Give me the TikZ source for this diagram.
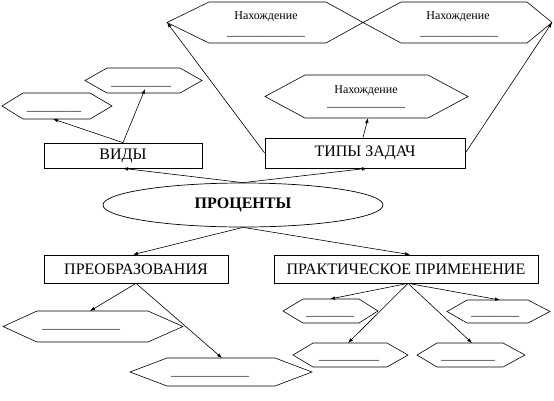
\documentclass[tikz,border=0pt]{standalone}
\usepackage{fontspec}
\setmainfont{Liberation Serif}
\usetikzlibrary{arrows.meta,shapes.geometric}
\tikzset{
  hexline/.style={draw=black,line width=0.6pt,line join=miter},
  box/.style={draw=black,line width=0.7pt,rectangle,inner sep=0pt,font=\fontsize{16}{18}\selectfont},
  oval/.style={draw=black,line width=0.7pt,ellipse,inner sep=0pt,minimum width=280pt,minimum height=44pt,font=\fontsize{16}{18}\selectfont\bfseries},
  conn/.style={draw=black,line width=0.6pt,-{Latex[length=5pt,width=3.6pt]}},
  small/.style={inner sep=0pt,anchor=base,font=\fontsize{12}{14}\selectfont},
  ul/.style={inner sep=0pt,anchor=base,font=\fontsize{12}{14}\selectfont},
}
\newcommand{\hexa}[6]{%
  \draw[hexline] (#1,{(#5+#6)/2}) -- (#2,#5) -- (#3,#5) -- (#4,{(#5+#6)/2}) -- (#3,#6) -- (#2,#6) -- cycle;}
\begin{document}
\begin{tikzpicture}[x=1pt,y=-1pt]
\useasboundingbox (0,0) rectangle (554,400);
% hexagons
\hexa{167}{209}{326}{363}{2}{43}
\hexa{363}{401}{527}{552}{2}{43}
\hexa{265}{305}{428}{468}{75}{118}
\hexa{2}{23}{90}{112}{93}{119}
\hexa{85}{107}{180}{202}{68}{93}
\hexa{3}{37}{148}{183}{311}{342}
\hexa{130}{167}{275}{312}{358}{386}
\hexa{283}{303}{359}{378}{299}{323}
\hexa{447}{467}{528}{550}{300}{323}
\hexa{293}{313}{387}{408}{343}{367}
\hexa{417}{437}{503}{525}{343}{367}
% hexagon texts
\node[small] (n1) at (266,19) {Нахождение};
\node[ul] (u1) at (266,35.5) {\_\_\_\_\_\_\_\_\_\_\_\_\_};
\node[small] (n2) at (458,19) {Нахождение};
\node[ul] (u2) at (459,35.5) {\_\_\_\_\_\_\_\_\_\_\_\_\_};
\node[small] (n3) at (366,93) {Нахождение};
\node[ul] (u3) at (366,106.5) {\_\_\_\_\_\_\_\_\_\_\_\_\_};
\node[ul] (uA) at (54,110.5) {\_\_\_\_\_\_\_\_\_};
\node[ul] (uB) at (141,85.5) {\_\_\_\_\_\_\_\_\_\_};
\node[ul] (uC) at (81,328.5) {\_\_\_\_\_\_\_\_\_\_\_\_\_};
\node[ul] (uD) at (210,375.5) {\_\_\_\_\_\_\_\_\_\_\_\_\_};
\node[ul] (uE) at (330,315.5) {\_\_\_\_\_\_\_\_};
\node[ul] (uF) at (495,315.5) {\_\_\_\_\_\_\_\_};
\node[ul] (uG) at (349,359.5) {\_\_\_\_\_\_\_\_\_\_};
\node[ul] (uH) at (468,359.5) {\_\_\_\_\_\_\_\_\_};
% arrow end points on hexagons
\coordinate (h1l) at (167,22.5);
\coordinate (h2r) at (552,22.5);
\coordinate (h3b) at (368,118);
\coordinate (hAb) at (53,119);
\coordinate (hBb) at (145,89);
\coordinate (hCt) at (90,311);
\coordinate (hDt) at (222,358);
\coordinate (hEt) at (330,299);
\coordinate (hFt) at (500,300);
\coordinate (hGt) at (348,343);
\coordinate (hHt) at (472,343);
% main nodes
\node[box,minimum width=158pt,minimum height=25pt] (vidy) at (123,155.5) {ВИДЫ};
\node[box,minimum width=200pt,minimum height=30pt] (tz) at (365,153) {ТИПЫ ЗАДАЧ};
\node[oval] (proc) at (243,205) {ПРОЦЕНТЫ};
\node[box,minimum width=184pt,minimum height=28pt] (preob) at (136,269) {ПРЕОБРАЗОВАНИЯ};
\node[box,minimum width=264pt,minimum height=28pt] (prakt) at (406,269) {ПРАКТИЧЕСКОЕ ПРИМЕНЕНИЕ};
% connectors
\draw[conn] (proc.north) -- (vidy.south);
\draw[conn] (proc.north) -- ([xshift=2pt]tz.south);
\draw[conn] (proc.south) -- ([xshift=-3pt]preob.north);
\draw[conn] (proc.south) -- ([xshift=4pt]prakt.north);
\draw[conn] (vidy.north) -- (hAb);
\draw[conn] (vidy.north) -- (hBb);
\draw[conn] (tz.west) -- (h1l);
\draw[conn] (tz.east) -- (h2r);
\draw[conn] ([xshift=-2pt]tz.north) -- (h3b);
\draw[conn] (preob.south) -- (hCt);
\draw[conn] (preob.south) -- (hDt);
\draw[conn] ([xshift=2pt]prakt.south) -- (hEt);
\draw[conn] ([xshift=2pt]prakt.south) -- (hFt);
\draw[conn] ([xshift=2pt]prakt.south) -- (hGt);
\draw[conn] ([xshift=2pt]prakt.south) -- (hHt);
\end{tikzpicture}
\end{document}
